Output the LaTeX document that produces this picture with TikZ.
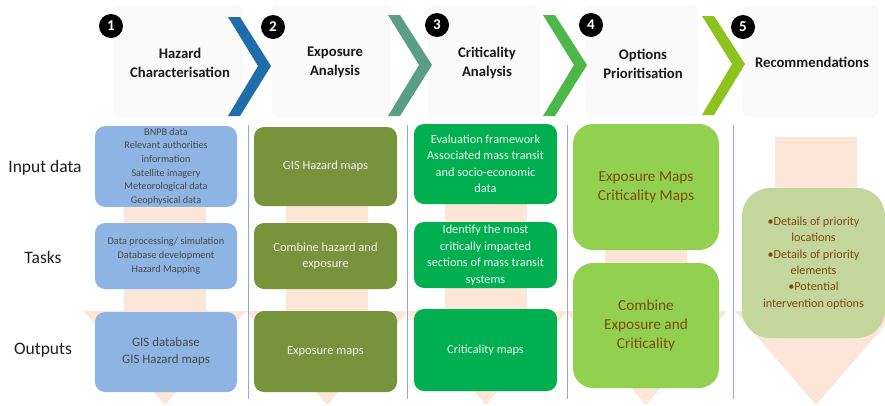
\documentclass[tikz,border=0pt]{standalone}
\usepackage{fontspec}
\setmainfont{Carlito}
\begin{document}
\begin{tikzpicture}[x=1pt,y=-1pt,
  panel/.style={fill=black!2,draw=black!4,rounded corners=6pt},
  bgarrow/.style={fill=peach},
  sep/.style={draw=sepblue,line width=0.9pt},
  numc/.style={circle,fill=black,text=white,minimum size=24pt,inner sep=0pt,font=\fontsize{15}{15}\selectfont\bfseries},
  title/.style={align=center,font=\fontsize{14.7}{19}\selectfont\bfseries,text=black!90},
  rowlab/.style={font=\fontsize{17.5}{18}\selectfont,text=black!88},
  boxbase/.style={rectangle,align=center,inner sep=2pt},
  bA/.style={boxbase,fill=cblue,rounded corners=10pt,text=txtgray},
  bB/.style={boxbase,fill=colive,rounded corners=10pt,text=white!95!black,font=\fontsize{12.5}{16}\selectfont},
  bC/.style={boxbase,fill=cgreen,rounded corners=10pt,text=white!95!black,font=\fontsize{12.3}{16.5}\selectfont},
  bD/.style={boxbase,fill=clime,rounded corners=20pt,text=txtbrown,font=\fontsize{15.3}{18.8}\selectfont},
  bE/.style={boxbase,fill=csage,rounded corners=28pt,text=txtbrown,font=\fontsize{12.2}{16.4}\selectfont}
]
\definecolor{peach}{HTML}{FCE6D8}
\definecolor{sepblue}{HTML}{8EAADB}
\definecolor{cblue}{HTML}{8DB4E2}
\definecolor{colive}{HTML}{77933C}
\definecolor{cgreen}{HTML}{00B050}
\definecolor{clime}{HTML}{92D050}
\definecolor{csage}{HTML}{C3D69B}
\definecolor{txtgray}{HTML}{4A4A4A}
\definecolor{txtbrown}{HTML}{7F4A10}
\definecolor{chA}{HTML}{1F6DAA}
\definecolor{chB}{HTML}{5A9E88}
\definecolor{chC}{HTML}{4DB849}
\definecolor{chD}{HTML}{8DC21F}

\useasboundingbox (0,0) rectangle (885,405);
\fill[white] (0,0) rectangle (885,405);

% header panels
\draw[panel] (113,6) rectangle (243,116);
\draw[panel] (272,6) rectangle (390,116);
\draw[panel] (428,6) rectangle (540,116);
\draw[panel] (585,6) rectangle (698,116);
\draw[panel] (743,6) rectangle (878,116);

% background arrows
\foreach \cx/\top in {165/150,327/150,486/150,646/150,816/137}{
  \fill[bgarrow] (\cx-41,\top) -- (\cx+41,\top) -- (\cx+41,311) -- (\cx+81,311)
     -- (\cx,405) -- (\cx-81,311) -- (\cx-41,311) -- cycle;
}

% separators
\foreach \sx in {248,407,567,733}{
  \draw[sep] (\sx,125) -- (\sx,399);
}

% boxes column 1
\node[bA,minimum width=142pt,minimum height=79pt,font=\fontsize{10.2}{13.6}\selectfont] (c1a) at (166,166.5)
  {BNPB data\\Relevant authorities\\information\\Satellite imagery\\Meteorological data\\Geophysical data};
\node[bA,minimum width=142pt,minimum height=66pt,font=\fontsize{10.3}{14}\selectfont] (c1b) at (166,256)
  {Data processing/ simulation\\Database development\\Hazard Mapping};
\node[bA,minimum width=142pt,minimum height=80pt,font=\fontsize{12.9}{17}\selectfont] (c1c) at (166,352)
  {GIS database\\GIS Hazard maps};

% column 2
\node[bB,minimum width=143pt,minimum height=79pt] (c2a) at (325.5,166.5) {GIS Hazard maps};
\node[bB,minimum width=143pt,minimum height=66pt] (c2b) at (325.5,256) {Combine hazard and\\exposure};
\node[bB,minimum width=143pt,minimum height=81pt] (c2c) at (325.5,351.5) {Exposure maps};

% column 3
\node[bC,minimum width=143pt,minimum height=80pt] (c3a) at (485.5,164)
  {Evaluation framework\\Associated mass transit\\and socio-economic\\data};
\node[bC,minimum width=143pt,minimum height=66pt] (c3b) at (485.5,255)
  {Identify the most\\critically impacted\\sections of mass transit\\systems};
\node[bC,minimum width=143pt,minimum height=82pt] (c3c) at (485.5,350) {Criticality maps};

% column 4
\node[bD,minimum width=146pt,minimum height=126pt] (c4a) at (646,187) {Exposure Maps\\Criticality Maps};
\node[bD,minimum width=146pt,minimum height=125pt] (c4b) at (646,325.5) {Combine\\Exposure and\\Criticality};

% column 5
\node[bE,minimum width=143pt,minimum height=150pt] (c5a) at (813.5,263)
  {•Details of priority\\locations\\•Details of priority\\elements\\•Potential\\intervention options};

% chevrons
\fill[chA] (228,17) -- (240,17) -- (271,66) -- (240,116) -- (228,116) -- (258,66) -- cycle;
\fill[chB] (388,15) -- (400,15) -- (432,65) -- (400,116) -- (388,116) -- (419,65) -- cycle;
\fill[chC] (543,15) -- (555,15) -- (587,65) -- (555,116) -- (543,116) -- (574,65) -- cycle;
\fill[chD] (702,16) -- (714,16) -- (745,64) -- (714,115) -- (702,115) -- (732,64) -- cycle;

% number circles
\node[numc] (n1) at (111,26) {1};
\node[numc] (n2) at (273,27) {2};
\node[numc] (n3) at (437,25) {3};
\node[numc] (n4) at (591,25) {4};
\node[numc] (n5) at (743,27) {5};

% titles
\node[title] (t1) at (180,62.5) {Hazard\\Characterisation};
\node[title] (t2) at (335,62.5) {Exposure\\Analysis};
\node[title] (t3) at (487,62.5) {Criticality\\Analysis};
\node[title] (t4) at (643,64) {Options\\Prioritisation};
\node[title] (t5) at (812,62) {Recommendations};

% row labels
\node[rowlab] (r1) at (45,168) {Input data};
\node[rowlab] (r2) at (43,257) {Tasks};
\node[rowlab] (r3) at (43,350) {Outputs};
\end{tikzpicture}
\end{document}
